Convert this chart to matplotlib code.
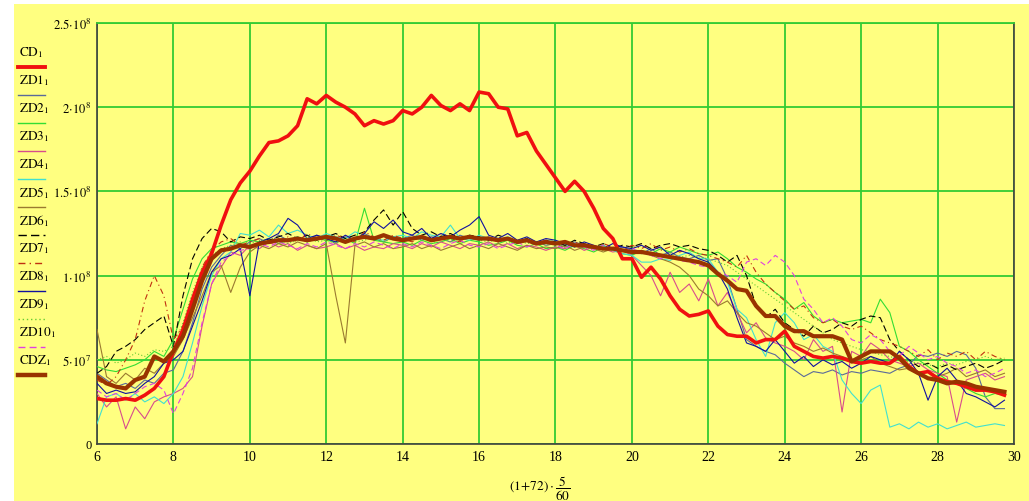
import numpy as np
import matplotlib
matplotlib.use('Agg')
import matplotlib.pyplot as plt
from matplotlib.lines import Line2D
from matplotlib.patches import Rectangle

plt.rcParams['font.family'] = ['Liberation Serif', 'DejaVu Serif']
plt.rcParams['mathtext.fontset'] = 'stix'

# values in units of 1e8, sampled every 0.25 from 6 to 29.75
cd = [0.27, 0.26, 0.26, 0.27, 0.26, 0.29, 0.33, 0.40,
      0.55, 0.68, 0.86, 1.02, 1.13, 1.30, 1.45, 1.55,
      1.62, 1.71, 1.79, 1.80, 1.83, 1.89, 2.05, 2.02,
      2.07, 2.03, 2.00, 1.96, 1.89, 1.92, 1.90, 1.92,
      1.98, 1.96, 2.00, 2.07, 2.01, 1.98, 2.02, 1.98,
      2.09, 2.08, 2.00, 1.99, 1.83, 1.85, 1.74, 1.66,
      1.58, 1.50, 1.56, 1.50, 1.40, 1.28, 1.22, 1.10,
      1.10, 0.99, 1.05, 0.98, 0.88, 0.80, 0.76, 0.77,
      0.79, 0.70, 0.65, 0.64, 0.64, 0.60, 0.62, 0.62,
      0.67, 0.58, 0.55, 0.52, 0.51, 0.52, 0.51, 0.49,
      0.48, 0.49, 0.48, 0.48, 0.52, 0.46, 0.42, 0.43,
      0.39, 0.37, 0.36, 0.34, 0.32, 0.32, 0.31, 0.29]

cdz = [0.40, 0.36, 0.34, 0.33, 0.38, 0.40, 0.52, 0.49,
       0.55, 0.64, 0.80, 0.97, 1.10, 1.15, 1.16, 1.18,
       1.17, 1.19, 1.20, 1.21, 1.21, 1.22, 1.21, 1.22,
       1.23, 1.22, 1.20, 1.22, 1.23, 1.22, 1.24, 1.22,
       1.21, 1.22, 1.23, 1.21, 1.22, 1.23, 1.22, 1.23,
       1.22, 1.22, 1.21, 1.22, 1.20, 1.21, 1.19, 1.20,
       1.19, 1.20, 1.18, 1.18, 1.17, 1.16, 1.16, 1.15,
       1.14, 1.14, 1.13, 1.12, 1.11, 1.10, 1.09, 1.08,
       1.06, 1.01, 0.97, 0.92, 0.91, 0.82, 0.76, 0.76,
       0.70, 0.67, 0.67, 0.64, 0.64, 0.64, 0.62, 0.49,
       0.52, 0.55, 0.55, 0.55, 0.51, 0.45, 0.42, 0.39,
       0.38, 0.36, 0.37, 0.36, 0.34, 0.33, 0.32, 0.31]

zd1 = [0.42, 0.38, 0.34, 0.36, 0.33, 0.38, 0.36, 0.42,
       0.44, 0.55, 0.72, 0.92, 1.05, 1.12, 1.18, 1.16,
       1.20, 1.22, 1.19, 1.24, 1.21, 1.23, 1.20, 1.24,
       1.22, 1.19, 1.23, 1.21, 1.25, 1.22, 1.20, 1.23,
       1.22, 1.24, 1.21, 1.23, 1.22, 1.20, 1.24, 1.22,
       1.21, 1.23, 1.20, 1.22, 1.19, 1.21, 1.20, 1.18,
       1.19, 1.17, 1.20, 1.18, 1.16, 1.18, 1.15, 1.17,
       1.15, 1.13, 1.16, 1.12, 1.14, 1.11, 1.10, 1.12,
       1.09, 1.10, 0.98, 0.80, 0.62, 0.58, 0.55, 0.53,
       0.48, 0.44, 0.40, 0.43, 0.42, 0.44, 0.41, 0.43,
       0.42, 0.44, 0.43, 0.42, 0.45, 0.47, 0.53, 0.52,
       0.54, 0.52, 0.55, 0.53, 0.45, 0.28, 0.21, 0.21]

zd2 = [0.46, 0.44, 0.43, 0.45, 0.47, 0.50, 0.55, 0.52,
       0.62, 0.80, 0.98, 1.10, 1.16, 1.18, 1.20, 1.19,
       1.21, 1.20, 1.22, 1.19, 1.21, 1.23, 1.20, 1.22,
       1.21, 1.20, 1.22, 1.19, 1.40, 1.21, 1.20, 1.19,
       1.20, 1.18, 1.21, 1.19, 1.20, 1.22, 1.19, 1.21,
       1.20, 1.18, 1.19, 1.21, 1.18, 1.17, 1.19, 1.16,
       1.17, 1.15, 1.18, 1.16, 1.14, 1.17, 1.15, 1.13,
       1.12, 1.15, 1.13, 1.16, 1.14, 1.17, 1.15, 1.13,
       1.12, 1.14, 1.10, 1.05, 1.02, 0.98, 0.95, 0.90,
       0.86, 0.80, 0.84, 0.76, 0.72, 0.74, 0.72, 0.73,
       0.74, 0.72, 0.86, 0.78, 0.58, 0.55, 0.50, 0.46,
       0.42, 0.38, 0.36, 0.33, 0.30, 0.28, 0.30, 0.29]

zd3 = [0.30, 0.22, 0.28, 0.09, 0.22, 0.15, 0.25, 0.28,
       0.30, 0.33, 0.40, 0.70, 0.95, 1.05, 1.14, 1.12,
       1.18, 1.16, 1.20, 1.17, 1.19, 1.15, 1.18, 1.16,
       1.17, 1.19, 1.16, 1.18, 1.15, 1.17, 1.16, 1.19,
       1.18, 1.16, 1.19, 1.17, 1.20, 1.18, 1.16, 1.19,
       1.18, 1.20, 1.17, 1.19, 1.16, 1.18, 1.17, 1.15,
       1.17, 1.16, 1.18, 1.15, 1.17, 1.16, 1.14, 1.15,
       1.12, 1.06, 1.00, 0.88, 1.02, 0.90, 0.95, 0.85,
       0.98, 0.82, 0.90, 0.78, 0.66, 0.72, 0.63, 0.60,
       0.58, 0.55, 0.50, 0.62, 0.55, 0.58, 0.19, 0.55,
       0.52, 0.60, 0.56, 0.50, 0.48, 0.46, 0.48, 0.44,
       0.42, 0.40, 0.13, 0.38, 0.40, 0.42, 0.38, 0.40]

zd4 = [0.12, 0.28, 0.30, 0.26, 0.30, 0.25, 0.28, 0.24,
       0.30, 0.40, 0.60, 0.82, 1.00, 1.10, 1.14, 1.25,
       1.24, 1.27, 1.23, 1.30, 1.25, 1.27, 1.24, 1.22,
       1.25, 1.23, 1.22, 1.26, 1.24, 1.22, 1.21, 1.23,
       1.24, 1.22, 1.26, 1.24, 1.23, 1.30, 1.22, 1.21,
       1.24, 1.22, 1.21, 1.23, 1.20, 1.22, 1.19, 1.21,
       1.20, 1.18, 1.17, 1.19, 1.16, 1.18, 1.15, 1.13,
       1.12, 1.08, 1.08, 1.10, 1.09, 1.12, 1.14, 1.10,
       1.10, 1.02, 0.96, 0.80, 0.75, 0.62, 0.52, 0.72,
       0.78, 0.72, 0.62, 0.65, 0.58, 0.55, 0.38, 0.30,
       0.24, 0.32, 0.35, 0.10, 0.12, 0.09, 0.13, 0.10,
       0.12, 0.09, 0.11, 0.13, 0.10, 0.11, 0.12, 0.11]

zd5 = [0.68, 0.40, 0.36, 0.42, 0.38, 0.45, 0.42, 0.48,
       0.52, 0.62, 0.75, 0.88, 1.02, 1.06, 0.90, 1.05,
       1.14, 1.18, 1.16, 1.19, 1.17, 1.20, 1.18, 1.16,
       1.19, 0.88, 0.60, 1.18, 1.20, 1.17, 1.19, 1.16,
       1.17, 1.19, 1.16, 1.18, 1.15, 1.17, 1.19, 1.16,
       1.18, 1.16, 1.19, 1.17, 1.15, 1.18, 1.16, 1.17,
       1.16, 1.18, 1.15, 1.17, 1.16, 1.14, 1.16, 1.15,
       1.13, 1.15, 1.12, 1.10, 1.08, 1.05, 1.00, 0.92,
       0.88, 0.82, 0.85, 0.78, 0.72, 0.70, 0.66, 0.62,
       0.64, 0.60, 0.58, 0.55, 0.57, 0.54, 0.52, 0.50,
       0.50, 0.52, 0.48, 0.46, 0.44, 0.45, 0.42, 0.43,
       0.40, 0.42, 0.45, 0.40, 0.42, 0.44, 0.40, 0.42]

zd6 = [0.42, 0.46, 0.55, 0.58, 0.62, 0.68, 0.72, 0.76,
       0.58, 0.88, 1.10, 1.22, 1.28, 1.26, 1.20, 1.23,
       1.22, 1.24, 1.21, 1.23, 1.25, 1.22, 1.24, 1.21,
       1.23, 1.25, 1.22, 1.24, 1.26, 1.33, 1.39, 1.30,
       1.38, 1.28, 1.24, 1.26, 1.23, 1.25, 1.22, 1.24,
       1.23, 1.21, 1.24, 1.22, 1.20, 1.22, 1.19, 1.21,
       1.20, 1.18, 1.21, 1.19, 1.17, 1.19, 1.16, 1.18,
       1.17, 1.19, 1.16, 1.18, 1.19, 1.17, 1.18, 1.16,
       1.15, 1.12, 1.08, 1.12, 1.00, 0.82, 0.75, 0.80,
       0.72, 0.68, 0.64, 0.70, 0.66, 0.68, 0.72, 0.70,
       0.74, 0.76, 0.75, 0.62, 0.55, 0.50, 0.46, 0.48,
       0.45, 0.47, 0.44, 0.46, 0.48, 0.45, 0.47, 0.50]

zd7 = [0.38, 0.35, 0.40, 0.50, 0.62, 0.85, 1.00, 0.88,
       0.62, 0.70, 0.85, 1.05, 1.15, 1.20, 1.22, 1.18,
       1.20, 1.22, 1.19, 1.21, 1.23, 1.20, 1.25, 1.22,
       1.21, 1.24, 1.22, 1.20, 1.26, 1.23, 1.21, 1.24,
       1.22, 1.20, 1.23, 1.21, 1.24, 1.22, 1.20, 1.23,
       1.21, 1.23, 1.20, 1.22, 1.19, 1.21, 1.18, 1.20,
       1.19, 1.17, 1.20, 1.18, 1.16, 1.19, 1.17, 1.15,
       1.18, 1.16, 1.19, 1.15, 1.17, 1.14, 1.16, 1.13,
       1.12, 1.10, 1.08, 1.05, 1.12, 1.02, 0.95, 0.90,
       0.85, 0.80, 0.82, 0.75, 0.72, 0.74, 0.70, 0.68,
       0.70, 0.66, 0.62, 0.60, 0.58, 0.55, 0.52, 0.56,
       0.50, 0.54, 0.52, 0.55, 0.50, 0.55, 0.52, 0.50]

zd8 = [0.36, 0.30, 0.32, 0.30, 0.31, 0.36, 0.40, 0.48,
       0.50, 0.55, 0.70, 0.85, 1.02, 1.10, 1.12, 1.16,
       0.88, 1.20, 1.22, 1.25, 1.34, 1.30, 1.22, 1.24,
       1.22, 1.20, 1.24, 1.21, 1.25, 1.32, 1.28, 1.33,
       1.26, 1.24, 1.28, 1.22, 1.25, 1.23, 1.27, 1.30,
       1.35, 1.24, 1.22, 1.25, 1.21, 1.23, 1.20, 1.22,
       1.21, 1.19, 1.17, 1.20, 1.18, 1.16, 1.19, 1.17,
       1.16, 1.18, 1.15, 1.17, 1.12, 1.15, 1.13, 1.10,
       1.08, 1.02, 0.92, 0.75, 0.60, 0.58, 0.55, 0.62,
       0.55, 0.48, 0.52, 0.46, 0.50, 0.47, 0.49, 0.45,
       0.48, 0.52, 0.50, 0.48, 0.55, 0.50, 0.42, 0.26,
       0.40, 0.45, 0.38, 0.30, 0.28, 0.25, 0.22, 0.26]

zd9 = [0.50, 0.52, 0.48, 0.50, 0.54, 0.52, 0.56, 0.55,
       0.58, 0.72, 0.90, 1.05, 1.12, 1.16, 1.18, 1.20,
       1.19, 1.21, 1.20, 1.22, 1.19, 1.21, 1.23, 1.20,
       1.21, 1.19, 1.22, 1.20, 1.21, 1.23, 1.20, 1.22,
       1.20, 1.22, 1.21, 1.19, 1.22, 1.20, 1.21, 1.23,
       1.21, 1.20, 1.22, 1.19, 1.21, 1.19, 1.20, 1.18,
       1.19, 1.17, 1.18, 1.16, 1.17, 1.15, 1.16, 1.14,
       1.15, 1.13, 1.14, 1.12, 1.13, 1.11, 1.12, 1.11,
       1.10, 1.08, 1.06, 1.02, 0.98, 0.94, 0.90, 0.86,
       0.82, 0.78, 0.74, 0.70, 0.66, 0.62, 0.60, 0.58,
       0.56, 0.55, 0.53, 0.52, 0.50, 0.49, 0.48, 0.47,
       0.46, 0.48, 0.47, 0.49, 0.50, 0.52, 0.50, 0.51]

zd10 = [0.32, 0.28, 0.30, 0.26, 0.30, 0.34, 0.36, 0.32,
        0.18, 0.30, 0.45, 0.72, 0.95, 1.08, 1.12, 1.15,
        1.16, 1.19, 1.17, 1.20, 1.18, 1.16, 1.19, 1.17,
        1.20, 1.18, 1.16, 1.19, 1.17, 1.20, 1.18, 1.16,
        1.19, 1.17, 1.20, 1.18, 1.16, 1.19, 1.21, 1.18,
        1.17, 1.19, 1.16, 1.18, 1.20, 1.17, 1.19, 1.21,
        1.18, 1.16, 1.19, 1.17, 1.15, 1.18, 1.16, 1.14,
        1.16, 1.14, 1.12, 1.10, 1.12, 1.09, 1.08, 1.06,
        1.05, 1.02, 1.00, 0.96, 1.08, 1.10, 1.06, 1.12,
        1.08, 1.00, 0.86, 0.80, 0.72, 0.75, 0.70, 0.62,
        0.60, 0.65, 0.62, 0.55, 0.52, 0.58, 0.54, 0.50,
        0.52, 0.48, 0.46, 0.42, 0.44, 0.40, 0.42, 0.45]

labels = ['CD', 'ZD1', 'ZD2', 'ZD3', 'ZD4', 'ZD5', 'ZD6', 'ZD7',
          'ZD8', 'ZD9', 'ZD10', 'CDZ']
series = [cd, zd1, zd2, zd3, zd4, zd5, zd6, zd7, zd8, zd9, zd10, cdz]
colors = ['#f01010', '#5a6a9a', '#33dd33', '#d84c8c', '#40e0d0', '#9a7a30',
          '#000000', '#c03010', '#1010a0', '#66cc33', '#e040e0', '#993300']
widths = [2.6, 0.8, 0.8, 0.8, 0.8, 0.8, 0.8, 0.8, 0.8, 0.8, 0.8, 3.0]
styles = ['-', '-', '-', '-', '-', '-', (0, (6, 3)), (0, (5, 3, 1, 3)),
          '-', (0, (1, 2)), (0, (5, 3)), '-']

yticks = [0, 0.5e8, 1e8, 1.5e8, 2e8, 2.5e8]
ytick_labels = ['0', r'$5\!\cdot\!10^{7}$', r'$1\!\cdot\!10^{8}$',
                r'$1.5\!\cdot\!10^{8}$', r'$2\!\cdot\!10^{8}$',
                r'$2.5\!\cdot\!10^{8}$']
xticks = list(range(6, 31, 2))

YELLOW = '#ffff80'
GREEN = '#33cc33'
W, H = 1029, 502

t = 6 + 0.25 * np.arange(len(cd))

fig = plt.figure(figsize=(W / 100, H / 100), dpi=100)
fig.patch.set_facecolor('white')
fig.patches.append(Rectangle((14 / W, 0), 1 - 14 / W, 1 - 5 / H,
                             transform=fig.transFigure, facecolor=YELLOW,
                             edgecolor='none', zorder=-10))

ax = fig.add_axes([97 / W, 1 - 445 / H, (1014 - 97) / W, (445 - 24) / H])
ax.set_facecolor(YELLOW)

# thin traces first, then the two thick ones on top
order = list(range(1, 11)) + [0, 11]
for i in order:
    ax.plot(t, np.array(series[i]) * 1e8, color=colors[i], lw=widths[i],
            linestyle=styles[i], zorder=3 + (i in (0, 11)))

ax.set_xlim(6, 30)
ax.set_ylim(0, 2.5e8)
ax.set_xticks(xticks)
ax.set_xticklabels([str(v) for v in xticks], fontsize=10)
ax.set_yticks(yticks)
ax.set_yticklabels(ytick_labels, fontsize=9)
ax.tick_params(length=0, pad=4)
ax.grid(True, color=GREEN, lw=1.3)
ax.set_axisbelow(True)
for s in ['left', 'bottom', 'right']:
    ax.spines[s].set_color('#404040')
    ax.spines[s].set_linewidth(1.2)
ax.spines['top'].set_color(GREEN)
ax.spines['top'].set_linewidth(1.3)

fig.text(540 / W, 1 - 489 / H, r'$(1\!+\!72)\cdot\dfrac{5}{60}$',
         ha='center', va='center', fontsize=9.5)

# legend down the left side: name above a short sample of the trace
for k, name in enumerate(labels):
    yt = 53 + 28 * k
    yl = 68 + 28 * k
    fig.text(19 / W, 1 - yt / H, r'$\mathrm{' + name + '}_1$',
             ha='left', va='center', fontsize=9.5)
    fig.add_artist(Line2D([18 / W, 45 / W], [1 - yl / H, 1 - yl / H],
                          transform=fig.transFigure, color=colors[k],
                          lw=widths[k] + 0.2, linestyle=styles[k]))

fig.savefig('out.png', dpi=100, facecolor=fig.get_facecolor())
